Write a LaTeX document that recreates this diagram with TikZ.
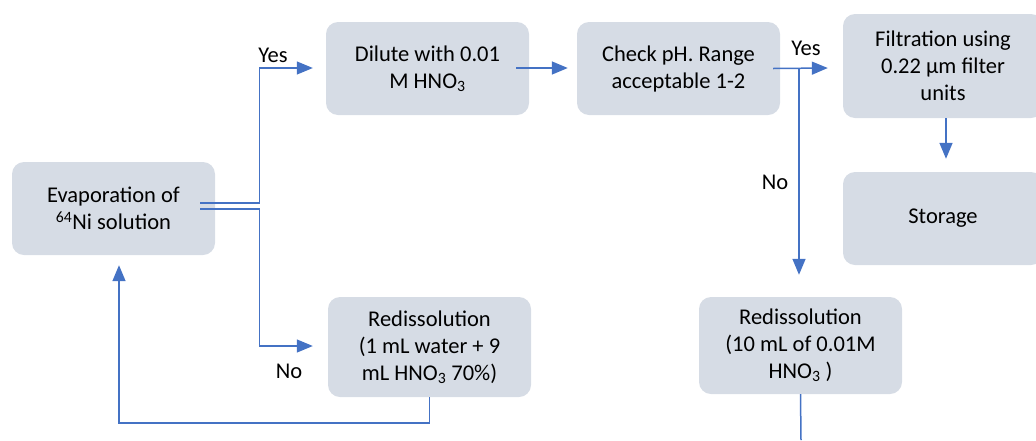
\documentclass[tikz,border=0pt]{standalone}
\usepackage{fontspec}
\setmainfont{Carlito}
\usetikzlibrary{arrows.meta,calc}
\definecolor{boxfill}{HTML}{D6DCE5}
\definecolor{linec}{HTML}{4472C4}
\begin{document}
\begin{tikzpicture}[x=1pt,y=-1pt,
  every node/.style={font=\fontsize{22.5}{27}\selectfont},
  flowbox/.style={fill=boxfill,rounded corners=12pt,align=center,inner sep=0pt},
  conn/.style={draw=linec,line width=1.5pt},
  arr/.style={conn,-{Triangle[length=16pt,width=13pt]}},
  lbl/.style={inner sep=0pt}]
\useasboundingbox (0,0) rectangle (1036,440);
\node[flowbox,minimum width=203pt,minimum height=93pt] (evap) at (113.5,208.5) {Evaporation of\\\textsuperscript{64}Ni solution};
\node[flowbox,minimum width=203pt,minimum height=93pt] (dilute) at (427.5,68.5) {Dilute with 0.01\\M HNO\textsubscript{3}};
\node[flowbox,minimum width=203pt,minimum height=93pt] (check) at (678.5,68.5) {Check pH. Range\\acceptable 1-2};
\node[flowbox,minimum width=200pt,minimum height=104pt] (filt) at (943,66) {Filtration using\\0.22 µm filter\\units};
\node[flowbox,minimum width=200pt,minimum height=93pt] (stor) at (943,218.5) {\raisebox{5pt}{Storage}};
\node[flowbox,minimum width=203pt,minimum height=100pt] (redL) at (429.5,347) {Redissolution\\(1 mL water + 9\\mL HNO\textsubscript{3} 70\%)};
\node[flowbox,minimum width=203pt,minimum height=97pt] (redR) at (800.5,345.5) {Redissolution\\(10 mL of 0.01M\\HNO\textsubscript{3} )};
\node[lbl] (yes1) at (273,55) {Yes};
\node[lbl] (no1) at (289,371) {No};
\node[lbl] (yes2) at (806,48) {Yes};
\node[lbl] (no2) at (775,182) {No};
\coordinate (bot) at (801,440);
% connectors
\draw[arr,line width=1.2pt] ($(evap.east)+(-15,-5.5)$) -- ++(59,0) |- ($(dilute.west)+(-13,-0.5)$);
\draw[arr,line width=1.2pt] ($(evap.east)+(-15,0.5)$) -- ++(59,0) |- ($(redL.west)+(-15,-1)$);
\draw[arr] ($(dilute.east)+(-13,-0.5)$) -- ($(check.west)+(-9,-0.5)$);
\draw[arr] ($(check.east)+(-7,0)$) -- ($(filt.west)+(-15,2)$);
\draw[arr] ($(redR.north |- check.east)+(-1.5,0)$) -- ($(redR.north)+(-1.5,-22)$);
\draw[arr] ($(filt.south)+(3,0)$) -- ($(stor.north)+(3,-13)$);
\draw[conn] (redR.south) -- (bot);
\draw[arr] (redL.south) -- ++(0,26) -| ($(evap.south)+(5.5,10)$);
\end{tikzpicture}
\end{document}
